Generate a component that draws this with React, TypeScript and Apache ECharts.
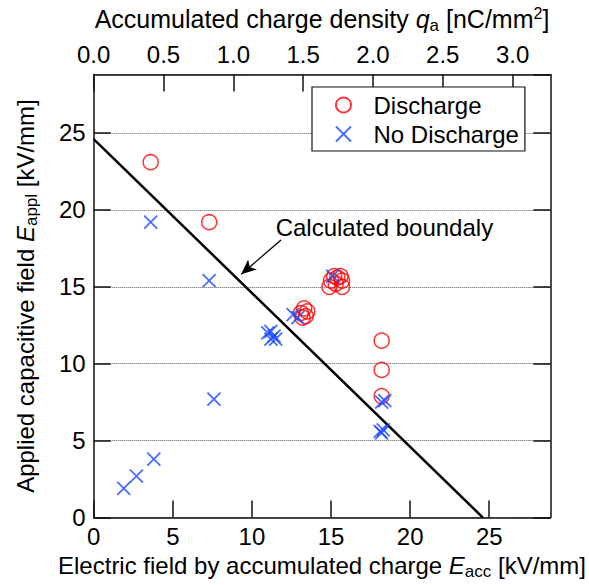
import React, { useEffect, useRef } from "react";
import * as echarts from "echarts";

const discharge: number[][] = [
  [3.6, 23.1], [7.3, 19.2],
  [13.1, 13.3], [13.3, 13.6], [13.5, 13.4], [13.4, 13.1], [13.2, 13.0],
  [14.9, 15.0], [15.0, 15.4], [15.3, 15.2], [15.4, 15.6], [15.6, 15.7],
  [15.7, 15.4], [15.7, 15.0], [15.2, 15.7],
  [18.2, 11.5], [18.2, 9.6], [18.2, 7.9],
];

const noDischarge: number[][] = [
  [1.9, 1.9], [2.7, 2.7], [3.8, 3.8], [3.6, 19.2], [7.3, 15.4], [7.6, 7.7],
  [11.0, 12.0], [11.2, 11.6], [11.4, 11.8], [11.5, 11.6], [11.2, 12.1],
  [12.6, 13.2], [12.9, 13.0],
  [15.1, 15.7],
  [18.2, 7.5], [18.4, 7.6],
  [18.1, 5.6], [18.2, 5.5], [18.3, 5.7],
];

const boundary: number[][] = [[0, 24.6], [24.6, 0]];
const arrowFrom = [11.84, 18.05];
const arrowTo = [9.32, 15.81];
const annotationAt = [11.5, 18.85];
const annotationText = "Calculated boundaly";

const xMax = 28.86;
const yMax = 28.8;
const qMax = 3.27;

const FONT = "Liberation Sans, Arial, sans-serif";
const FS = 24;
const TFS = 24;
const RED = "#ff0000";
const BLUE = "#1a4aff";
const TICK_LEN = 17;

export default function App() {
  const ref = useRef<HTMLDivElement>(null);
  useEffect(() => {
    if (!ref.current) return;
    const chart = echarts.init(ref.current, undefined, { renderer: "svg" });
    const mkLine = () => ({ show: true, onZero: false, lineStyle: { color: "#111", width: 1.5 } });
    const mkTick = () => ({ show: true, inside: true, length: TICK_LEN, lineStyle: { color: "#111", width: 1.5 } });
    const mkRich = (fs: number) => ({
      a: { fontSize: fs, fontFamily: FONT, color: "#000" },
      i: { fontSize: fs, fontFamily: FONT, color: "#000", fontStyle: "italic" },
      s: { fontSize: 17, fontFamily: FONT, color: "#000", padding: [12, 0, 0, 0] },
      p: { fontSize: 16, fontFamily: FONT, color: "#000", padding: [0, 0, 12, 0] },
    });
    chart.setOption({
      animation: false,
      textStyle: { fontFamily: FONT },
      grid: { left: 93.7, right: 37, top: 61, bottom: 66.3 },
      legend: {
        orient: "vertical",
        left: 312,
        top: 87,
        padding: [6, 6, 5, 23],
        itemWidth: 50,
        itemHeight: 15,
        itemGap: 5,
        borderColor: "#111",
        borderWidth: 1.2,
        backgroundColor: "#ffffff",
        textStyle: { fontSize: FS, fontFamily: FONT, color: "#000" },
        data: ["Discharge", "No Discharge"],
      },
      xAxis: [
        {
          type: "value",
          position: "bottom",
          min: 0,
          max: xMax,
          interval: 5,
          axisLine: mkLine(),
          axisTick: mkTick(),
          splitLine: { show: false },
          axisLabel: { fontSize: TFS, color: "#000", margin: 7, showMaxLabel: false },
          name: "{a|Electric field by accumulated charge }{i|E}{s|acc}{a| [kV/mm]}",
          nameLocation: "middle",
          nameGap: 33,
          nameTextStyle: { rich: mkRich(24) },
        },
        {
          type: "value",
          position: "top",
          min: 0,
          max: qMax,
          interval: 0.5,
          axisLine: mkLine(),
          axisTick: mkTick(),
          splitLine: { show: false },
          axisLabel: {
            fontSize: TFS,
            color: "#000",
            margin: 8,
            showMaxLabel: false,
            formatter: (v: number) => v.toFixed(1),
          },
          name: "{a|Accumulated charge density }{i|q}{s|a}{a| [nC/mm}{p|2}{a|]}",
          nameLocation: "middle",
          nameGap: 41,
          nameTextStyle: { rich: mkRich(25) },
        },
      ],
      yAxis: [
        {
          type: "value",
          position: "left",
          min: 0,
          max: yMax,
          interval: 5,
          axisLine: mkLine(),
          axisTick: mkTick(),
          splitLine: { show: true, lineStyle: { type: "dotted", color: "#555555", width: 1 } },
          axisLabel: { fontSize: TFS, color: "#000", margin: 8, showMaxLabel: false },
          name: "{a|Applied capacitive field }{i|E}{s|appl}{a| [kV/mm]}",
          nameLocation: "middle",
          nameGap: 54,
          nameTextStyle: { rich: mkRich(24) },
        },
        {
          type: "value",
          position: "right",
          min: 0,
          max: yMax,
          interval: 5,
          axisLine: mkLine(),
          axisTick: mkTick(),
          splitLine: { show: false },
          axisLabel: { show: false },
        },
      ],
      series: [
        {
          name: "boundary",
          type: "line",
          data: boundary,
          showSymbol: false,
          symbol: "none",
          lineStyle: { color: "#000", width: 2.5 },
          z: 2,
          markLine: {
            silent: true,
            symbol: ["none", "arrow"],
            symbolSize: [10, 15],
            lineStyle: { color: "#000", width: 1.3, type: "solid" },
            label: { show: false },
            data: [[{ coord: arrowFrom }, { coord: arrowTo }]],
          },
          markPoint: {
            symbol: "circle",
            symbolSize: 0,
            label: {
              show: true,
              position: "right",
              distance: 0,
              formatter: annotationText,
              color: "#000",
              fontSize: 24,
              fontFamily: FONT,
            },
            data: [{ coord: annotationAt }],
          },
        },
        {
          name: "Discharge",
          type: "scatter",
          data: discharge,
          symbol: "circle",
          symbolSize: 15,
          itemStyle: { color: "rgba(255,255,255,0)", borderColor: RED, borderWidth: 1.5 },
          z: 3,
        },
        {
          name: "No Discharge",
          type: "scatter",
          data: noDischarge,
          symbol: "path://M0 0L10 10M10 0L0 10",
          symbolSize: 13,
          itemStyle: { color: "rgba(255,255,255,0)", borderColor: BLUE, borderWidth: 1.8 },
          z: 4,
        },
      ],
    });
    return () => chart.dispose();
  }, []);
  return (
    <div
      ref={ref}
      style={{ position: "fixed", left: 0, top: 0, width: 589, height: 585, background: "#fff" }}
    />
  );
}
